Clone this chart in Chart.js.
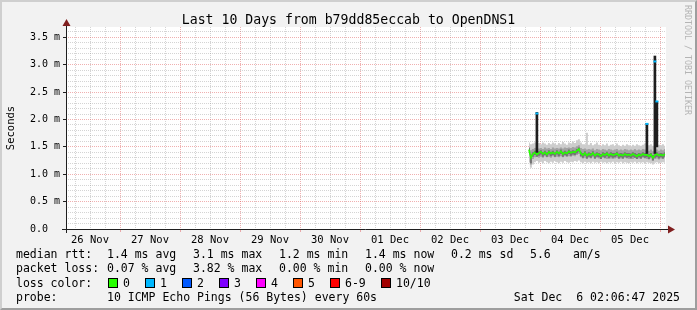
<!DOCTYPE html>
<html><head><meta charset="utf-8">
<script src="https://cdn.jsdelivr.net/npm/chart.js@4.4.1/dist/chart.umd.min.js"></script>
<style>
html,body{margin:0;padding:0;}
body{width:697px;height:310px;overflow:hidden;position:relative;background:#f2f2f2;font-family:"DejaVu Sans Mono",monospace;color:#000;}
#c{position:absolute;left:0;top:0;}
.t{position:absolute;white-space:pre;font-size:11.5px;line-height:14px;}
#title{position:absolute;left:0;width:697px;top:12px;text-align:center;font-size:13.2px;line-height:16px;white-space:pre;}
#ylab{position:absolute;left:0px;top:128px;width:16px;transform:translateY(-50%);writing-mode:vertical-rl;transform-origin:center;font-size:10.5px;}
#ylab span{display:inline-block;transform:rotate(180deg);}
#wm{position:absolute;left:683px;top:5px;writing-mode:vertical-rl;font-size:8.3px;color:#b4b4b4;white-space:pre;}
#frame{position:absolute;left:0;top:0;width:697px;height:310px;box-sizing:border-box;border-top:2px solid #cfcfcf;border-left:2px solid #cfcfcf;border-right:2px solid #9e9e9e;border-bottom:2px solid #9e9e9e;pointer-events:none;}
.sq{position:absolute;width:10px;height:10px;box-sizing:border-box;border:1px solid #000;}
</style></head><body>
<canvas id="c" width="697" height="310"></canvas>
<div id="title">Last 10 Days from b79dd85eccab to OpenDNS1</div>
<div id="ylab"><span>Seconds</span></div>
<div id="wm">RRDTOOL / TOBI OETIKER</div>
<div id="legend"></div>
<div id="frame"></div>
<script>
// ---- data ----
const dayLabels = ['26 Nov','27 Nov','28 Nov','29 Nov','30 Nov','01 Dec','02 Dec','03 Dec','04 Dec','05 Dec'];
const yTickLabels = ['0.0  ','0.5 m','1.0 m','1.5 m','2.0 m','2.5 m','3.0 m','3.5 m'];
const sampleStart = 7.815;      // days since 26 Nov 00:00
const sampleStep = 1/30;        // 48 minutes per sample

const medianRtt = [1.45,1.30,1.37,1.40,1.36,1.39,1.41,1.37,1.40,1.36,
 1.41,1.38,1.40,1.37,1.41,1.38,1.42,1.37,1.40,1.38,
 1.42,1.39,1.41,1.40,1.43,1.46,1.38,1.35,1.39,1.34,
 1.37,1.35,1.39,1.34,1.37,1.36,1.33,1.37,1.35,1.38,
 1.34,1.37,1.35,1.36,1.38,1.34,1.36,1.34,1.37,1.35,
 1.36,1.34,1.37,1.35,1.33,1.36,1.34,1.37,1.35,1.36,
 1.33,1.36,1.30,1.35,1.37,1.34,1.36,1.34,1.37];
const pingMax = [1.58,1.55,1.56,1.58,1.60,1.57,1.55,1.58,1.56,1.54,
 1.57,1.55,1.58,1.56,1.54,1.57,1.55,1.59,1.56,1.54,
 1.58,1.56,1.60,1.57,1.62,1.64,1.58,1.55,1.55,1.76,
 1.54,1.57,1.53,1.55,1.58,1.54,1.52,1.55,1.53,1.56,
 1.52,1.54,1.55,1.52,1.56,1.53,1.51,1.54,1.52,1.55,
 1.53,1.51,1.54,1.52,1.55,1.53,1.52,1.54,1.56,1.55,
 1.53,1.55,1.52,1.57,1.55,1.54,1.53,1.55,1.52];
const pingMin = [1.22,1.12,1.18,1.22,1.24,1.21,1.23,1.20,1.24,1.22,
 1.20,1.23,1.21,1.24,1.22,1.20,1.23,1.21,1.24,1.22,
 1.21,1.23,1.22,1.24,1.23,1.25,1.22,1.20,1.23,1.21,
 1.22,1.20,1.23,1.21,1.22,1.20,1.23,1.21,1.22,1.20,
 1.22,1.21,1.23,1.20,1.22,1.21,1.23,1.20,1.22,1.21,
 1.20,1.22,1.21,1.23,1.20,1.22,1.21,1.22,1.20,1.22,
 1.21,1.20,1.18,1.21,1.22,1.20,1.21,1.22,1.21];
const pingHigh = [1.50,1.44,1.46,1.48,1.49,1.47,1.48,1.46,1.49,1.47,
 1.48,1.46,1.49,1.47,1.48,1.47,1.49,1.47,1.49,1.48,
 1.49,1.48,1.50,1.49,1.51,1.53,1.48,1.46,1.47,1.45,
 1.46,1.45,1.47,1.44,1.46,1.45,1.44,1.46,1.45,1.44,
 1.46,1.45,1.44,1.45,1.46,1.44,1.45,1.44,1.46,1.45,
 1.44,1.45,1.44,1.46,1.44,1.45,1.44,1.46,1.45,1.44,
 1.43,1.45,1.42,1.44,1.45,1.43,1.45,1.44,1.46];
const pingLow = [1.36,1.18,1.28,1.31,1.32,1.30,1.32,1.30,1.33,1.31,
 1.32,1.30,1.33,1.31,1.32,1.31,1.33,1.31,1.33,1.32,
 1.33,1.32,1.34,1.33,1.35,1.37,1.31,1.29,1.30,1.28,
 1.30,1.29,1.31,1.28,1.30,1.29,1.28,1.30,1.29,1.28,
 1.30,1.29,1.28,1.29,1.30,1.28,1.29,1.28,1.30,1.29,
 1.28,1.29,1.28,1.30,1.28,1.29,1.28,1.30,1.29,1.28,
 1.27,1.29,1.25,1.28,1.29,1.27,1.29,1.28,1.30];
const pingMidHigh = [1.48,1.36,1.40,1.43,1.40,1.42,1.44,1.40,1.43,1.40,
 1.44,1.41,1.43,1.40,1.44,1.41,1.45,1.41,1.43,1.41,
 1.45,1.42,1.44,1.43,1.46,1.49,1.41,1.39,1.42,1.38,
 1.40,1.39,1.42,1.38,1.40,1.39,1.37,1.40,1.39,1.41,
 1.38,1.40,1.39,1.39,1.41,1.38,1.39,1.38,1.40,1.39,
 1.39,1.38,1.40,1.39,1.37,1.39,1.38,1.40,1.39,1.39,
 1.37,1.39,1.35,1.38,1.40,1.38,1.39,1.38,1.40];
const pingMidLow = [1.40,1.20,1.32,1.35,1.32,1.34,1.36,1.32,1.35,1.32,
 1.36,1.33,1.35,1.32,1.36,1.33,1.37,1.32,1.35,1.33,
 1.37,1.34,1.36,1.35,1.38,1.41,1.33,1.30,1.34,1.29,
 1.32,1.30,1.34,1.29,1.32,1.31,1.28,1.32,1.30,1.33,
 1.29,1.32,1.30,1.31,1.33,1.29,1.31,1.29,1.32,1.30,
 1.31,1.29,1.32,1.30,1.28,1.31,1.29,1.32,1.30,1.31,
 1.28,1.31,1.25,1.30,1.32,1.29,1.31,1.29,1.32];
const spikeIndex = [4, 59, 63, 64];
const spikeLow   = [1.40, 1.38, 1.38, 1.50];
const spikeHigh  = [2.13, 1.93, 3.16, 2.33];
const lossOneMedian = [2.11, 1.92, 3.06, 2.33];

const lossLabels = ['0','1','2','3','4','5','6-9','10/10'];
const lossColors = ['#26ff00','#00b8ff','#0059ff','#7e00ff','#ff00ff','#ff5500','#ff0000','#a10000'];
const rttStats  = ['1.4 ms avg','3.1 ms max','1.2 ms min','1.4 ms now','0.2 ms sd','5.6','am/s'];
const lossStats = ['0.07 % avg','3.82 % max','0.00 % min','0.00 % now'];
const probeText = '10 ICMP Echo Pings (56 Bytes) every 60s';
const stampText = 'Sat Dec  6 02:06:47 2025';

// ---- legend (text) ----
const L = document.getElementById('legend');
function addText(txt, x, cy, right){
  const d = document.createElement('div'); d.className='t'; d.textContent = txt;
  d.style.top = (cy-7)+'px';
  if (right) { d.style.right = (697-x)+'px'; } else { d.style.left = x+'px'; }
  L.appendChild(d);
}
const rttX = [107,193,279,365,451,530,573];
addText('median rtt:', 16, 254);
rttStats.forEach((s,i)=>addText(s, rttX[i], 254));
addText('packet loss:', 16, 268);
lossStats.forEach((s,i)=>addText(s, rttX[i], 268));
addText('loss color:', 16, 283);
const sqX = [108,145,182,219,256,293,330,381];
lossLabels.forEach((s,i)=>{
  const q = document.createElement('div'); q.className='sq';
  q.style.left = sqX[i]+'px'; q.style.top='278px'; q.style.background = lossColors[i];
  L.appendChild(q);
  addText(s, sqX[i]+15, 283);
});
addText('probe:', 16, 297);
addText(probeText, 107, 297);
addText(stampText, 680, 297, true);

// ---- chart ----
const xs = medianRtt.map((_, i) => sampleStart + i*sampleStep);
const pts = arr => arr.map((v, i) => ({x: xs[i], y: v}));
const MINOR = 'rgba(143,143,143,0.38)';
const MAJOR = 'rgba(222,79,79,0.45)';

const deco = {
  id: 'deco',
  beforeDraw(chart){
    const {ctx, chartArea: a} = chart;
    ctx.save(); ctx.fillStyle = '#ffffff';
    ctx.fillRect(a.left, a.top, a.right - a.left, a.bottom - a.top);
    ctx.restore();
  },
  afterDraw(chart){
    const {ctx, chartArea: a} = chart;
    ctx.save();
    ctx.strokeStyle = '#1f1f1f'; ctx.lineWidth = 1;
    ctx.beginPath();
    ctx.moveTo(a.left - 4, a.bottom + 0.5); ctx.lineTo(a.right + 3, a.bottom + 0.5);
    ctx.moveTo(a.left + 0.5, a.bottom + 4); ctx.lineTo(a.left + 0.5, a.top - 1);
    ctx.stroke();
    ctx.fillStyle = '#801f1f';
    ctx.beginPath();
    ctx.moveTo(a.right + 2, a.bottom - 3.5); ctx.lineTo(a.right + 9, a.bottom + 0.5); ctx.lineTo(a.right + 2, a.bottom + 4.5);
    ctx.closePath(); ctx.fill();
    ctx.beginPath();
    ctx.moveTo(a.left - 3.5, a.top - 1); ctx.lineTo(a.left + 0.5, a.top - 8); ctx.lineTo(a.left + 4.5, a.top - 1);
    ctx.closePath(); ctx.fill();
    ctx.restore();
  }
};

new Chart(document.getElementById('c'), {
  type: 'line',
  data: { datasets: [
    { label:'loss 1', data: spikeIndex.map((k,i)=>({x: xs[k], y: lossOneMedian[i]})), showLine:false,
      pointStyle:'line', pointRadius:1.5, pointBorderWidth:2, pointBorderColor: lossColors[1], order:0 },
    { type:'bar', label:'spikes', data: spikeIndex.map((k,i)=>({x: xs[k], y: [spikeLow[i], spikeHigh[i]]})),
      backgroundColor:'#1e1e1e', barThickness:2, grouped:false, order:1 },
    { label:'median', data: pts(medianRtt), borderColor: lossColors[0], borderWidth:1.6, pointRadius:0, tension:0, order:2 },
    { label:'midHigh', data: pts(pingMidHigh), borderWidth:0, pointRadius:0, stepped:'middle', fill:'+1', backgroundColor:'#747474', order:3 },
    { label:'midLow', data: pts(pingMidLow), borderWidth:0, pointRadius:0, stepped:'middle', order:3 },
    { label:'high', data: pts(pingHigh), borderWidth:0, pointRadius:0, stepped:'middle', fill:'+1', backgroundColor:'#a2a2a2', order:4 },
    { label:'low', data: pts(pingLow), borderWidth:0, pointRadius:0, stepped:'middle', order:4 },
    { label:'max', data: pts(pingMax), borderWidth:0, pointRadius:0, stepped:'middle', fill:'+1', backgroundColor:'#cdcdcd', order:5 },
    { label:'min', data: pts(pingMin), borderWidth:0, pointRadius:0, stepped:'middle', order:5 }
  ]},
  options: {
    responsive:false, animation:false, devicePixelRatio:1,
    layout:{ padding:{ left:0, right:31, top:27, bottom:0 } },
    plugins:{ legend:{display:false}, tooltip:{enabled:false}, title:{display:false} },
    scales:{
      x:{ type:'linear', min:0.1, max:10.1, offset:false,
        afterBuildTicks: s => { const t=[]; for (let k=1;k<=40;k++) t.push({value:k/4}); s.ticks = t; },
        afterFit: s => { s.height = 81; },
        grid:{ offset:false, lineWidth:1, drawTicks:true, tickLength:3, tickBorderDash:[],
          color: c => (c.tick && Number.isInteger(c.tick.value)) ? MAJOR : MINOR,
          tickColor: c => (c.tick && Number.isInteger(c.tick.value)) ? MAJOR : 'rgba(0,0,0,0)' },
        border:{ display:false, dash:[1,1] },
        ticks:{ autoSkip:false, maxRotation:0, minRotation:0, padding:2, color:'#000',
          font:{ family:'DejaVu Sans Mono', size:10.5 },
          callback: v => { const f = v - Math.floor(v); return Math.abs(f-0.5) < 1e-6 ? dayLabels[Math.floor(v)] : ''; } }
      },
      y:{ type:'linear', min:0, max:3.69,
        afterBuildTicks: s => { s.ticks = Array.from({length:37}, (_,k)=>({value:k/10})); },
        afterFit: s => { s.width = 66; },
        grid:{ lineWidth:1, drawTicks:true, tickLength:3, tickBorderDash:[],
          color: c => c.index % 5 === 0 ? MAJOR : MINOR,
          tickColor: c => c.index % 5 === 0 ? '#1f1f1f' : 'rgba(0,0,0,0)' },
        border:{ display:false, dash:[1,1] },
        ticks:{ autoSkip:false, padding:3, color:'#000', font:{ family:'DejaVu Sans Mono', size:10 },
          callback: (v,i) => i % 5 === 0 ? yTickLabels[i/5] : '' }
      }
    }
  },
  plugins:[deco]
});
</script>
</body></html>
